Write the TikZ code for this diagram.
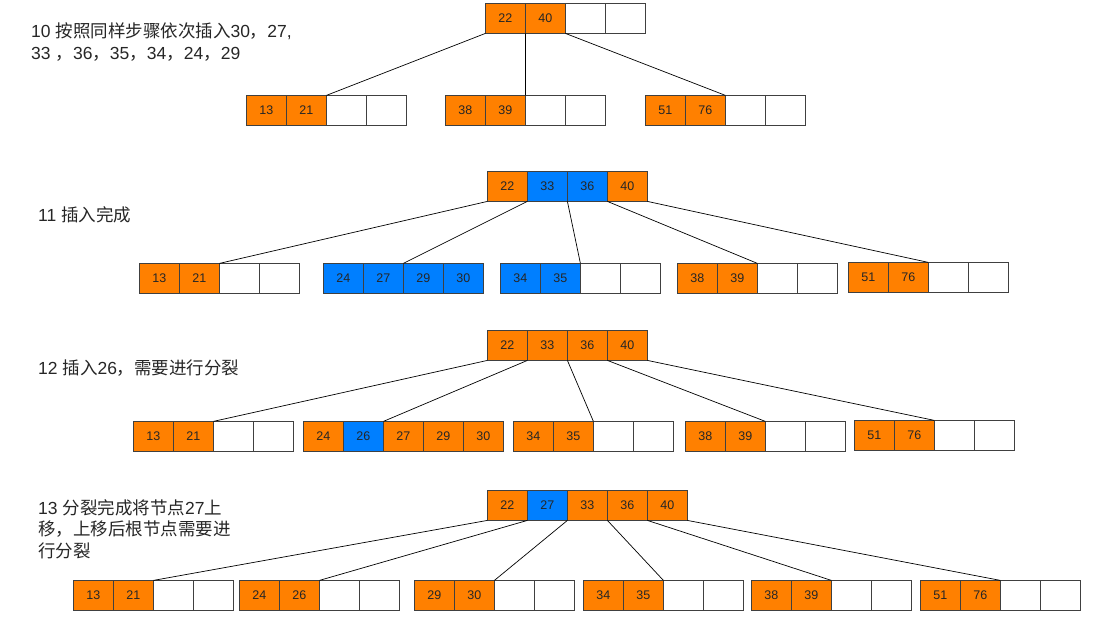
\documentclass[tikz,border=0pt]{standalone}
\usepackage{fontspec}
\setmainfont{Liberation Sans}
\newfontfamily\cjk{Noto Sans CJK SC}
\usetikzlibrary{matrix, positioning}
\definecolor{orgkey}{HTML}{FF8000}
\definecolor{blukey}{HTML}{007FFF}
\definecolor{keyline}{HTML}{404040}

\begin{document}
\begin{tikzpicture}[x=1pt, y=-1pt,
                key/.style={draw=keyline, line width=0.8pt, minimum width=40pt, minimum height=30pt,
                        inner sep=0pt, outer sep=0pt, anchor=center, fill=white, text=black!85,
                        font=\fontsize{12.5}{14}\selectfont},
                org/.style={fill=orgkey},
                blu/.style={fill=blukey},
                bnode/.style={matrix of nodes, nodes={key}, nodes in empty cells,
                        column sep=-0.8pt, inner sep=0pt, outer sep=0pt,
                        anchor=north west, ampersand replacement=\&},
                link/.style={line width=0.7pt, black},
                note/.style={font=\fontsize{17.5}{21.5}\selectfont, text=black!85, inner sep=0pt, align=left}]
                \useasboundingbox (0,0) rectangle (1110,624);

                % Step 10
                \node[note, anchor=north west] (txt10) at (31,23)
                    {10 {\cjk 按照同样步骤依次插入}30{\cjk ，}27,\\33 {\cjk ，}36{\cjk ，}35{\cjk ，}34{\cjk ，}24{\cjk ，}29};
                \matrix[bnode] (R10) at (485,3) {
                    |[org]| 22 \& |[org]| 40 \& \& \\
                };
                \matrix[bnode] (K10a) at (246,95) {
                    |[org]| 13 \& |[org]| 21 \& \& \\
                };
                \matrix[bnode] (K10b) at (445,95) {
                    |[org]| 38 \& |[org]| 39 \& \& \\
                };
                \matrix[bnode] (K10c) at (645,95) {
                    |[org]| 51 \& |[org]| 76 \& \& \\
                };
                \draw[link] (R10-1-1.south west) -- (K10a-1-2.north east);
                \draw[link] (R10-1-1.south east) -- (K10b-1-2.north east);
                \draw[link] (R10-1-2.south east) -- (K10c-1-2.north east);

                % Step 11
                \node[note, anchor=west] (txt11) at (38,215) {11 {\cjk 插入完成}};
                \matrix[bnode] (R11) at (487,171) {
                    |[org]| 22 \& |[blu]| 33 \& |[blu]| 36 \& |[org]| 40 \\
                };
                \matrix[bnode] (K11a) at (139,263) {
                    |[org]| 13 \& |[org]| 21 \& \& \\
                };
                \matrix[bnode] (K11b) at (323,263) {
                    |[blu]| 24 \& |[blu]| 27 \& |[blu]| 29 \& |[blu]| 30 \\
                };
                \matrix[bnode] (K11c) at (500,263) {
                    |[blu]| 34 \& |[blu]| 35 \& \& \\
                };
                \matrix[bnode] (K11d) at (677,263) {
                    |[org]| 38 \& |[org]| 39 \& \& \\
                };
                \matrix[bnode] (K11e) at (848,262) {
                    |[org]| 51 \& |[org]| 76 \& \& \\
                };
                \draw[link] (R11-1-1.south west) -- (K11a-1-2.north east);
                \draw[link] (R11-1-1.south east) -- (K11b-1-2.north east);
                \draw[link] (R11-1-2.south east) -- (K11c-1-2.north east);
                \draw[link] (R11-1-3.south east) -- (K11d-1-2.north east);
                \draw[link] (R11-1-4.south east) -- (K11e-1-2.north east);

                % Step 12
                \node[note, anchor=west] (txt12) at (38,368) {12 {\cjk 插入}26{\cjk ，需要进行分裂}};
                \matrix[bnode] (R12) at (487,330) {
                    |[org]| 22 \& |[org]| 33 \& |[org]| 36 \& |[org]| 40 \\
                };
                \matrix[bnode] (K12a) at (133,421) {
                    |[org]| 13 \& |[org]| 21 \& \& \\
                };
                \matrix[bnode] (K12b) at (303,421) {
                    |[org]| 24 \& |[blu]| 26 \& |[org]| 27 \& |[org]| 29 \& |[org]| 30 \\
                };
                \matrix[bnode] (K12c) at (513,421) {
                    |[org]| 34 \& |[org]| 35 \& \& \\
                };
                \matrix[bnode] (K12d) at (685,421) {
                    |[org]| 38 \& |[org]| 39 \& \& \\
                };
                \matrix[bnode] (K12e) at (854,420) {
                    |[org]| 51 \& |[org]| 76 \& \& \\
                };
                \draw[link] (R12-1-1.south west) -- (K12a-1-2.north east);
                \draw[link] (R12-1-1.south east) -- (K12b-1-2.north east);
                \draw[link] (R12-1-2.south east) -- (K12c-1-2.north east);
                \draw[link] (R12-1-3.south east) -- (K12d-1-2.north east);
                \draw[link] (R12-1-4.south east) -- (K12e-1-2.north east);

                % Step 13
                \node[note, anchor=north west] (txt13) at (38,499)
                    {13 {\cjk 分裂完成将节点}27{\cjk 上}\\{\cjk 移，上移后根节点需要进}\\{\cjk 行分裂}};
                \matrix[bnode] (R13) at (487,490) {
                    |[org]| 22 \& |[blu]| 27 \& |[org]| 33 \& |[org]| 36 \& |[org]| 40 \\
                };
                \matrix[bnode] (K13a) at (73,580) {
                    |[org]| 13 \& |[org]| 21 \& \& \\
                };
                \matrix[bnode] (K13b) at (239,580) {
                    |[org]| 24 \& |[org]| 26 \& \& \\
                };
                \matrix[bnode] (K13c) at (414,580) {
                    |[org]| 29 \& |[org]| 30 \& \& \\
                };
                \matrix[bnode] (K13d) at (583,580) {
                    |[org]| 34 \& |[org]| 35 \& \& \\
                };
                \matrix[bnode] (K13e) at (751,580) {
                    |[org]| 38 \& |[org]| 39 \& \& \\
                };
                \matrix[bnode] (K13f) at (920,580) {
                    |[org]| 51 \& |[org]| 76 \& \& \\
                };
                \draw[link] (R13-1-1.south west) -- (K13a-1-2.north east);
                \draw[link] (R13-1-1.south east) -- (K13b-1-2.north east);
                \draw[link] (R13-1-2.south east) -- (K13c-1-2.north east);
                \draw[link] (R13-1-3.south east) -- (K13d-1-2.north east);
                \draw[link] (R13-1-4.south east) -- (K13e-1-2.north east);
                \draw[link] (R13-1-5.south east) -- (K13f-1-2.north east);
            \end{tikzpicture}
\end{document}
